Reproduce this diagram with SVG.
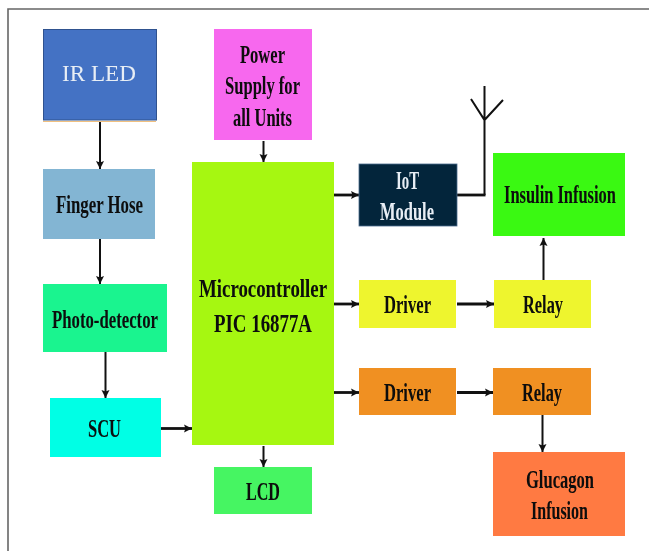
<svg xmlns="http://www.w3.org/2000/svg" width="649" height="551" viewBox="0 0 649 551">
<style>
.t{font-family:"Liberation Serif","Times New Roman",serif;font-weight:bold;font-size:24.500px;fill:#0a0a0a;text-anchor:start}
.w{fill:#e8eef5}
.c{fill:none;stroke:#111;stroke-width:2}
.h{fill:none;stroke:#111;stroke-width:2.800}
.a{marker-end:url(#ah)}
</style>
<defs>
<marker id="ah" markerUnits="userSpaceOnUse" markerWidth="9" markerHeight="9" refX="8" refY="4.500" orient="auto"><path d="M0,0.500L8,4.500L0,8.500L1.500,4.500Z" fill="#111"/></marker>
<filter id="soft" filterUnits="userSpaceOnUse" x="0" y="0" width="649" height="551"><feGaussianBlur stdDeviation="0.35"/></filter>
</defs>
<rect width="649" height="551" fill="#fff"/>
<path d="M8,551V9H649" fill="none" stroke="#666" stroke-width="1.600"/>
<g id="connectors">
<path class="c a" d="M100,121V169"/>
<path class="c a" d="M263.500,141V162"/>
<path class="c a" d="M100,239V284"/>
<path class="c a" d="M105.500,352V398"/>
<path class="h a" d="M161,428.500H192"/>
<path class="c a" d="M263.500,446V467"/>
<path class="h a" d="M334,195H359"/>
<path class="c" d="M484.500,195V86M471,99L484.500,120L503,100"/>
<path class="h" d="M457,195H485.500"/>
<path class="c a" d="M543.500,280V238"/>
<path class="h a" d="M334,304H359"/>
<path class="h a" d="M457,304H494"/>
<path class="h a" d="M334,392.500H359"/>
<path class="h a" d="M457,392.500H493"/>
<path class="c a" d="M542.500,415V452"/>
</g>
<g id="ir-led"><rect x="43" y="121" width="113" height="1" fill="#f0c080"/><rect x="43.500" y="29.500" width="113" height="90.500" fill="#4472C4" stroke="#2F528F"/><text class="t w" style="font-weight:normal;font-size:23px" x="62" y="81" textLength="74" lengthAdjust="spacingAndGlyphs" filter="url(#soft)">IR LED</text></g>
<g id="power"><rect x="214" y="29" width="98" height="111" fill="#F768EE"/><g filter="url(#soft)"><text class="t" x="240" y="63" textLength="45" lengthAdjust="spacingAndGlyphs">Power</text><text class="t" x="225" y="94" textLength="75" lengthAdjust="spacingAndGlyphs">Supply for</text><text class="t" x="233" y="126" textLength="59" lengthAdjust="spacingAndGlyphs">all Units</text></g></g>
<g id="finger-hose"><rect x="43" y="169" width="112" height="70" fill="#83B5D3"/><text class="t" x="56" y="213" textLength="87" lengthAdjust="spacingAndGlyphs" filter="url(#soft)">Finger Hose</text></g>
<g id="microcontroller"><rect x="192" y="162" width="142" height="283" fill="#A6F711"/><g filter="url(#soft)"><text class="t" x="199" y="297" textLength="128" lengthAdjust="spacingAndGlyphs">Microcontroller</text><text class="t" x="214" y="332" textLength="98" lengthAdjust="spacingAndGlyphs">PIC 16877A</text></g></g>
<g id="photo-detector"><rect x="43" y="284" width="124" height="68" fill="#1AF48F"/><text class="t" x="52" y="328" textLength="106" lengthAdjust="spacingAndGlyphs" filter="url(#soft)">Photo-detector</text></g>
<g id="scu"><rect x="50" y="398" width="111" height="59" fill="#00FFE5"/><text class="t" x="88" y="437" textLength="33" lengthAdjust="spacingAndGlyphs" filter="url(#soft)">SCU</text></g>
<g id="lcd"><rect x="214" y="467" width="98" height="47" fill="#46F562"/><text class="t" x="246" y="500" textLength="34" lengthAdjust="spacingAndGlyphs" filter="url(#soft)">LCD</text></g>
<g id="iot"><rect x="359" y="164" width="98" height="62" fill="#03253B" stroke="#4A6A8C" stroke-width="0.800"/><g filter="url(#soft)"><text class="t w" x="396" y="189" textLength="23" lengthAdjust="spacingAndGlyphs">IoT</text><text class="t w" x="380" y="220" textLength="54" lengthAdjust="spacingAndGlyphs">Module</text></g></g>
<g id="insulin"><rect x="493" y="153" width="132" height="83" fill="#3AF912"/><g filter="url(#soft)"><text class="t" transform="translate(504,203) scale(0.671,1)">Insulin Infusion</text></g></g>
<g id="driver-1"><rect x="359" y="280" width="97" height="48" fill="#EEF52E"/><text class="t" x="384" y="313" textLength="47" lengthAdjust="spacingAndGlyphs" filter="url(#soft)">Driver</text></g>
<g id="relay-1"><rect x="494" y="280" width="97" height="48" fill="#EEF52E"/><text class="t" x="523" y="313" textLength="40" lengthAdjust="spacingAndGlyphs" filter="url(#soft)">Relay</text></g>
<g id="driver-2"><rect x="359" y="368" width="97" height="47" fill="#F09022"/><text class="t" x="384" y="401" textLength="47" lengthAdjust="spacingAndGlyphs" filter="url(#soft)">Driver</text></g>
<g id="relay-2"><rect x="493" y="368" width="98" height="47" fill="#F09022"/><text class="t" x="522" y="401" textLength="40" lengthAdjust="spacingAndGlyphs" filter="url(#soft)">Relay</text></g>
<g id="glucagon"><rect x="493" y="452" width="132" height="84" fill="#FF7A42"/><g filter="url(#soft)"><text class="t" x="526" y="488" textLength="68" lengthAdjust="spacingAndGlyphs">Glucagon</text><text class="t" x="531" y="519" textLength="57" lengthAdjust="spacingAndGlyphs">Infusion</text></g></g>
</svg>
